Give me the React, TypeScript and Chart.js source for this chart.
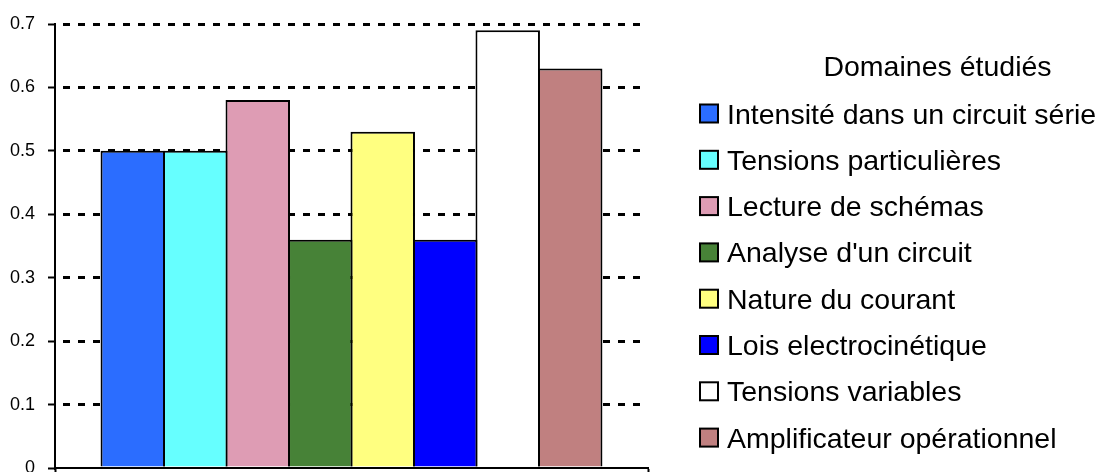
import React, { useEffect, useRef } from "react";
import { Chart, registerables } from "chart.js";

Chart.register(...registerables);

const categories = [""];
const seriesLabels = [
  "Intensité dans un circuit série",
  "Tensions particulières",
  "Lecture de schémas",
  "Analyse d'un circuit",
  "Nature du courant",
  "Lois electrocinétique",
  "Tensions variables",
  "Amplificateur opérationnel",
];
const seriesValues = [0.5, 0.5, 0.58, 0.36, 0.53, 0.36, 0.69, 0.63];
const seriesColors = [
  "#2B6DFF",
  "#66FFFF",
  "#DE9CB4",
  "#478237",
  "#FFFF80",
  "#0000FF",
  "#FFFFFF",
  "#C08080",
];
const yMin = 0;
const yMax = 0.7;
const yStep = 0.1;
const legendTitle = "Domaines étudiés";

const FONT = "'Liberation Sans', Arial, Helvetica, sans-serif";

const legendPlugin = {
  id: "customLegend",
  afterDraw(chart: any) {
    const ctx = chart.ctx as CanvasRenderingContext2D;
    ctx.save();
    ctx.font = `28.5px ${FONT}`;
    ctx.fillStyle = "#000";
    ctx.textBaseline = "alphabetic";
    ctx.textAlign = "center";
    ctx.fillText(legendTitle, 937.5, 76);
    ctx.textAlign = "left";
    chart.data.datasets.forEach((ds: any, i: number) => {
      const cy = 113.5 + i * 46.3;
      ctx.fillStyle = ds.backgroundColor;
      ctx.fillRect(700, cy - 9, 18, 18);
      ctx.lineWidth = 2;
      ctx.strokeStyle = "#000";
      ctx.strokeRect(700, cy - 9, 18, 18);
      ctx.fillStyle = "#000";
      ctx.fillText(ds.label, 727, cy + 10);
    });
    ctx.restore();
  },
};

export default function App() {
  const canvasRef = useRef<HTMLCanvasElement | null>(null);

  useEffect(() => {
    document.body.style.margin = "0";
    const canvas = canvasRef.current;
    if (!canvas) return;
    const chart = new Chart(canvas, {
      type: "bar",
      data: {
        labels: categories,
        datasets: seriesLabels.map((label, i) => ({
          label,
          data: [seriesValues[i]],
          backgroundColor: seriesColors[i],
          borderColor: "#000",
          borderWidth: 2,
          inflateAmount: 0,
          categoryPercentage: 0.843,
          barPercentage: 1.032,
        })),
      },
      options: {
        animation: false,
        responsive: false,
        maintainAspectRatio: false,
        layout: {
          autoPadding: false,
          padding: { top: 24, right: 455, left: 0, bottom: 0 },
        },
        plugins: {
          legend: { display: false },
          tooltip: { enabled: false },
        },
        scales: {
          x: {
            type: "category",
            offset: true,
            grid: {
              display: true,
              drawOnChartArea: false,
              drawTicks: true,
              tickLength: 5,
              color: "#000",
              tickColor: "#000",
              tickWidth: 2,
              offset: true,
            },
            ticks: { display: false },
            border: { display: true, color: "#000", width: 2 },
            afterFit: (scale: any) => {
              scale.height = 4;
              scale.paddingLeft = 0;
              scale.paddingRight = 0;
            },
          },
          y: {
            min: yMin,
            max: yMax,
            ticks: {
              stepSize: yStep,
              color: "#000",
              padding: 13,
              font: { size: 18, family: FONT },
              callback: (v: any) => {
                const n = Math.round(Number(v) * 10) / 10;
                return n === 0 ? "0" : String(n);
              },
            },
            grid: {
              color: (c: any) =>
                c.tick && c.tick.value === 0 ? "rgba(0,0,0,0)" : "#000",
              lineWidth: 3,
              tickLength: 7,
              tickColor: "#000",
              tickWidth: 2,
              tickBorderDash: [],
            },
            border: {
              display: true,
              color: "#000",
              width: 2,
              dash: [7, 8],
              dashOffset: 8,
            },
            afterFit: (scale: any) => {
              scale.width = 55;
              scale.paddingTop = 0;
              scale.paddingBottom = 0;
            },
          },
        },
      },
      plugins: [legendPlugin],
    } as any);
    return () => chart.destroy();
  }, []);

  return (
    <div style={{ width: 1103, height: 472 }}>
      <canvas ref={canvasRef} width={1103} height={472} />
    </div>
  );
}
